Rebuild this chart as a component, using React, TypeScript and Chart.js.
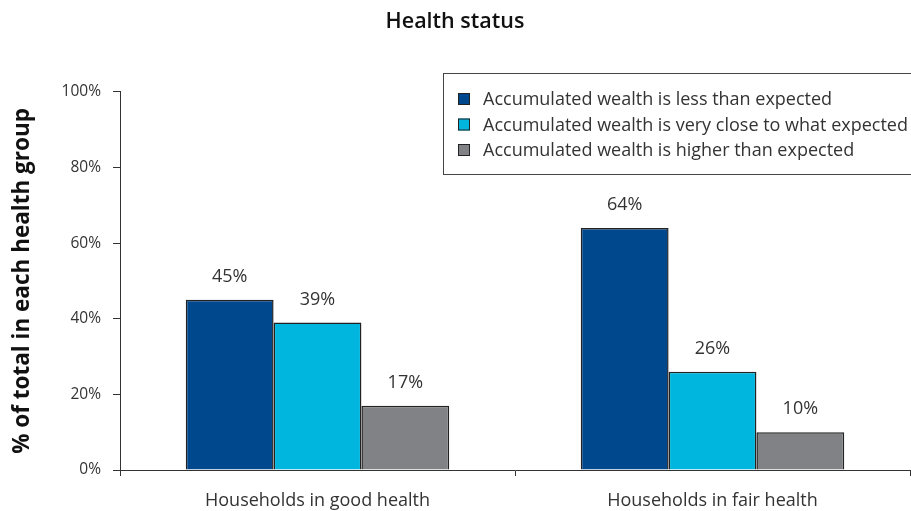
import React, { useEffect, useRef } from "react";
import { Chart, registerables } from "chart.js";

Chart.register(...registerables);

const categories = ["Households in good health", "Households in fair health"];
const seriesNames = [
  "Accumulated wealth is less than expected",
  "Accumulated wealth is very close to what expected",
  "Accumulated wealth is higher than expected",
];
const lessThanExpected = [45, 64];
const veryClose = [39, 26];
const higherThanExpected = [17, 10];
const seriesColors = ["#00488D", "#00B5DE", "#808285"];
const yTicks = [0, 20, 40, 60, 80, 100];

const FONT = "'Open Sans', 'Noto Sans', sans-serif";
const TEXT = "#333333";

const valueLabels = {
  id: "valueLabels",
  afterDatasetsDraw(chart: any) {
    const ctx = chart.ctx;
    ctx.save();
    ctx.font = `18px ${FONT}`;
    ctx.fillStyle = TEXT;
    ctx.textAlign = "center";
    ctx.textBaseline = "middle";
    chart.data.datasets.forEach((ds: any, i: number) => {
      const meta = chart.getDatasetMeta(i);
      meta.data.forEach((bar: any, j: number) => {
        ctx.fillText(`${ds.data[j]}%`, bar.x, bar.y - 23);
      });
    });
    ctx.restore();
  },
};

const boxLegend = {
  id: "boxLegend",
  afterDraw(chart: any) {
    const ctx = chart.ctx;
    ctx.save();
    const x0 = 443.5;
    const y0 = 73.5;
    ctx.fillStyle = "#ffffff";
    ctx.fillRect(x0, y0, 480, 101);
    ctx.strokeStyle = "#444444";
    ctx.lineWidth = 1;
    ctx.strokeRect(x0, y0, 480, 101);
    ctx.font = `18px ${FONT}`;
    ctx.textBaseline = "middle";
    ctx.textAlign = "left";
    chart.data.datasets.forEach((ds: any, i: number) => {
      const cy = 99 + i * 25.5;
      ctx.fillStyle = ds.backgroundColor;
      ctx.fillRect(458, cy - 6, 12, 12);
      ctx.strokeStyle = "#222222";
      ctx.lineWidth = 1;
      ctx.strokeRect(458.5, cy - 5.5, 11, 11);
      ctx.fillStyle = TEXT;
      ctx.fillText(ds.label, 483, cy + 1);
    });
    ctx.restore();
  },
};

export default function App() {
  const ref = useRef<HTMLCanvasElement>(null);
  useEffect(() => {
    if (!ref.current) return;
    const seriesData = [lessThanExpected, veryClose, higherThanExpected];
    const chart = new Chart(ref.current, {
      type: "bar",
      data: {
        labels: categories,
        datasets: seriesNames.map((name, i) => ({
          label: name,
          data: seriesData[i],
          backgroundColor: seriesColors[i],
          borderColor: "#222222",
          borderWidth: 1.5,
          borderSkipped: "bottom",
          categoryPercentage: 0.667,
          barPercentage: 1,
        })),
      },
      options: {
        animation: false,
        responsive: true,
        maintainAspectRatio: false,
        layout: { padding: { left: 0, right: 1, top: 0, bottom: 0 } },
        plugins: {
          legend: { display: false },
          tooltip: { enabled: false },
          title: {
            display: true,
            text: "Health status",
            color: "#111111",
            font: { family: FONT, size: 21.5, weight: "600" },
            padding: { top: 9, bottom: 57 },
          },
        },
        scales: {
          x: {
            offset: true,
            grid: {
              display: true,
              offset: true,
              drawOnChartArea: false,
              drawTicks: true,
              tickLength: 6,
              color: "#333333",
            },
            border: { display: true, color: "#333333", width: 1 },
            ticks: {
              color: TEXT,
              font: { family: FONT, size: 18 },
              padding: 14,
              maxRotation: 0,
            },
            afterFit(s: any) {
              s.height = 41;
            },
          },
          y: {
            min: 0,
            max: 100,
            afterBuildTicks(s: any) {
              s.ticks = yTicks.map((v) => ({ value: v }));
            },
            grid: {
              display: true,
              drawOnChartArea: false,
              drawTicks: true,
              tickLength: 7,
              color: "#333333",
            },
            border: { display: true, color: "#333333", width: 1 },
            ticks: {
              color: TEXT,
              font: { family: FONT, size: 15.5 },
              padding: 12,
              callback: (v: any) => `${v}%`,
            },
            title: {
              display: true,
              text: "% of total in each health group",
              color: "#111111",
              font: { family: FONT, size: 22.5, weight: "bold" },
              padding: { top: 9, bottom: 0 },
            },
            afterFit(s: any) {
              s.width = 120;
            },
          },
        },
      },
      plugins: [valueLabels, boxLegend],
    });
    return () => chart.destroy();
  }, []);
  return (
    <div style={{ position: "fixed", left: 0, top: 0, width: 911, height: 511, background: "#fff" }}>
      <canvas ref={ref} />
    </div>
  );
}
